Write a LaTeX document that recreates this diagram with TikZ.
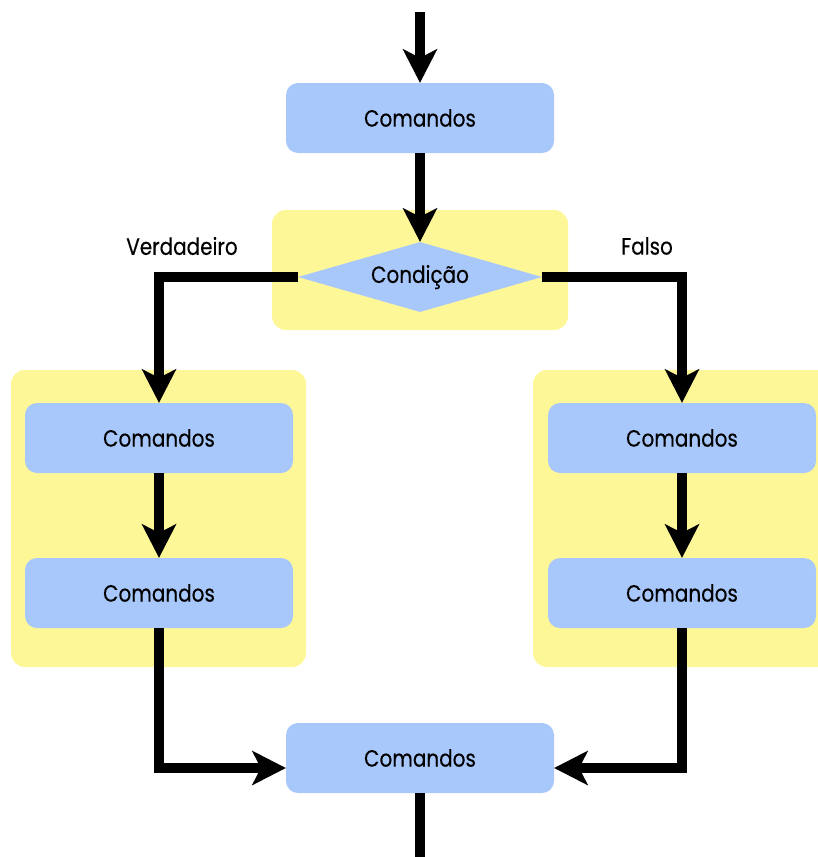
\documentclass[tikz,border=0pt]{standalone}
\usepackage{fontspec}
\setmainfont{Poppins}[FakeStretch=0.85,FakeBold=0.3]
\usetikzlibrary{arrows.meta,shapes.geometric,calc}
\definecolor{cmdblue}{RGB}{168,199,251}
\definecolor{panelyellow}{RGB}{254,247,152}
\begin{document}
\begin{tikzpicture}[x=1pt,y=-1pt,
  txt/.style={font=\fontsize{23.5}{27}\selectfont},
  cmd/.style={txt, fill=cmdblue, rounded corners=12pt, minimum width=268pt, minimum height=70pt, inner sep=0pt},
  cond/.style={txt, fill=cmdblue, shape=diamond, aspect=3.46, minimum width=244pt, minimum height=70pt, inner sep=0pt},
  panel/.style={fill=panelyellow, rounded corners=14pt, inner sep=0pt},
  flow/.style={line width=9.3pt},
  arr/.style={flow, -{Stealth[length=34pt,width=35pt,inset=9pt,line width=0pt]}}
]
\useasboundingbox (0,0) rectangle (818,857);
\clip (0,0) rectangle (818,857);
% panels
\node[panel, minimum width=296pt, minimum height=120pt] (pc) at (420,270) {};
\node[panel, minimum width=295pt, minimum height=297pt] (pl) at (158.5,518.5) {};
\node[panel, minimum width=307pt, minimum height=297pt] (pr) at (686.5,518.5) {};
% nodes
\coordinate (start) at (420,12);
\coordinate (stop) at (420,857);
\node[cmd] (top) at (420,118) {Comandos};
\node[cond] (c) at (420,277) {Condição};
\node[cmd] (l1) at (159,438) {Comandos};
\node[cmd] (l2) at (159,593) {Comandos};
\node[cmd] (r1) at (682,438) {Comandos};
\node[cmd] (r2) at (682,593) {Comandos};
\node[cmd] (bot) at (420,758) {Comandos};
\node[txt] (lv) at (182,246) {Verdadeiro};
\node[txt] (lf) at (647,246) {Falso};
% connectors
\draw[arr] (start) -- (top);
\draw[arr] (top) -- (c);
\draw[arr] (c.west) -| (l1.north);
\draw[arr] (c.east) -| (r1.north);
\draw[arr] (l1) -- (l2);
\draw[arr] (r1) -- (r2);
\draw[arr] (l2.south) |- ($(bot.west)+(0,10)$);
\draw[arr] (r2.south) |- ($(bot.east)+(0,10)$);
\draw[flow] (bot) -- (stop);
\end{tikzpicture}
\end{document}
